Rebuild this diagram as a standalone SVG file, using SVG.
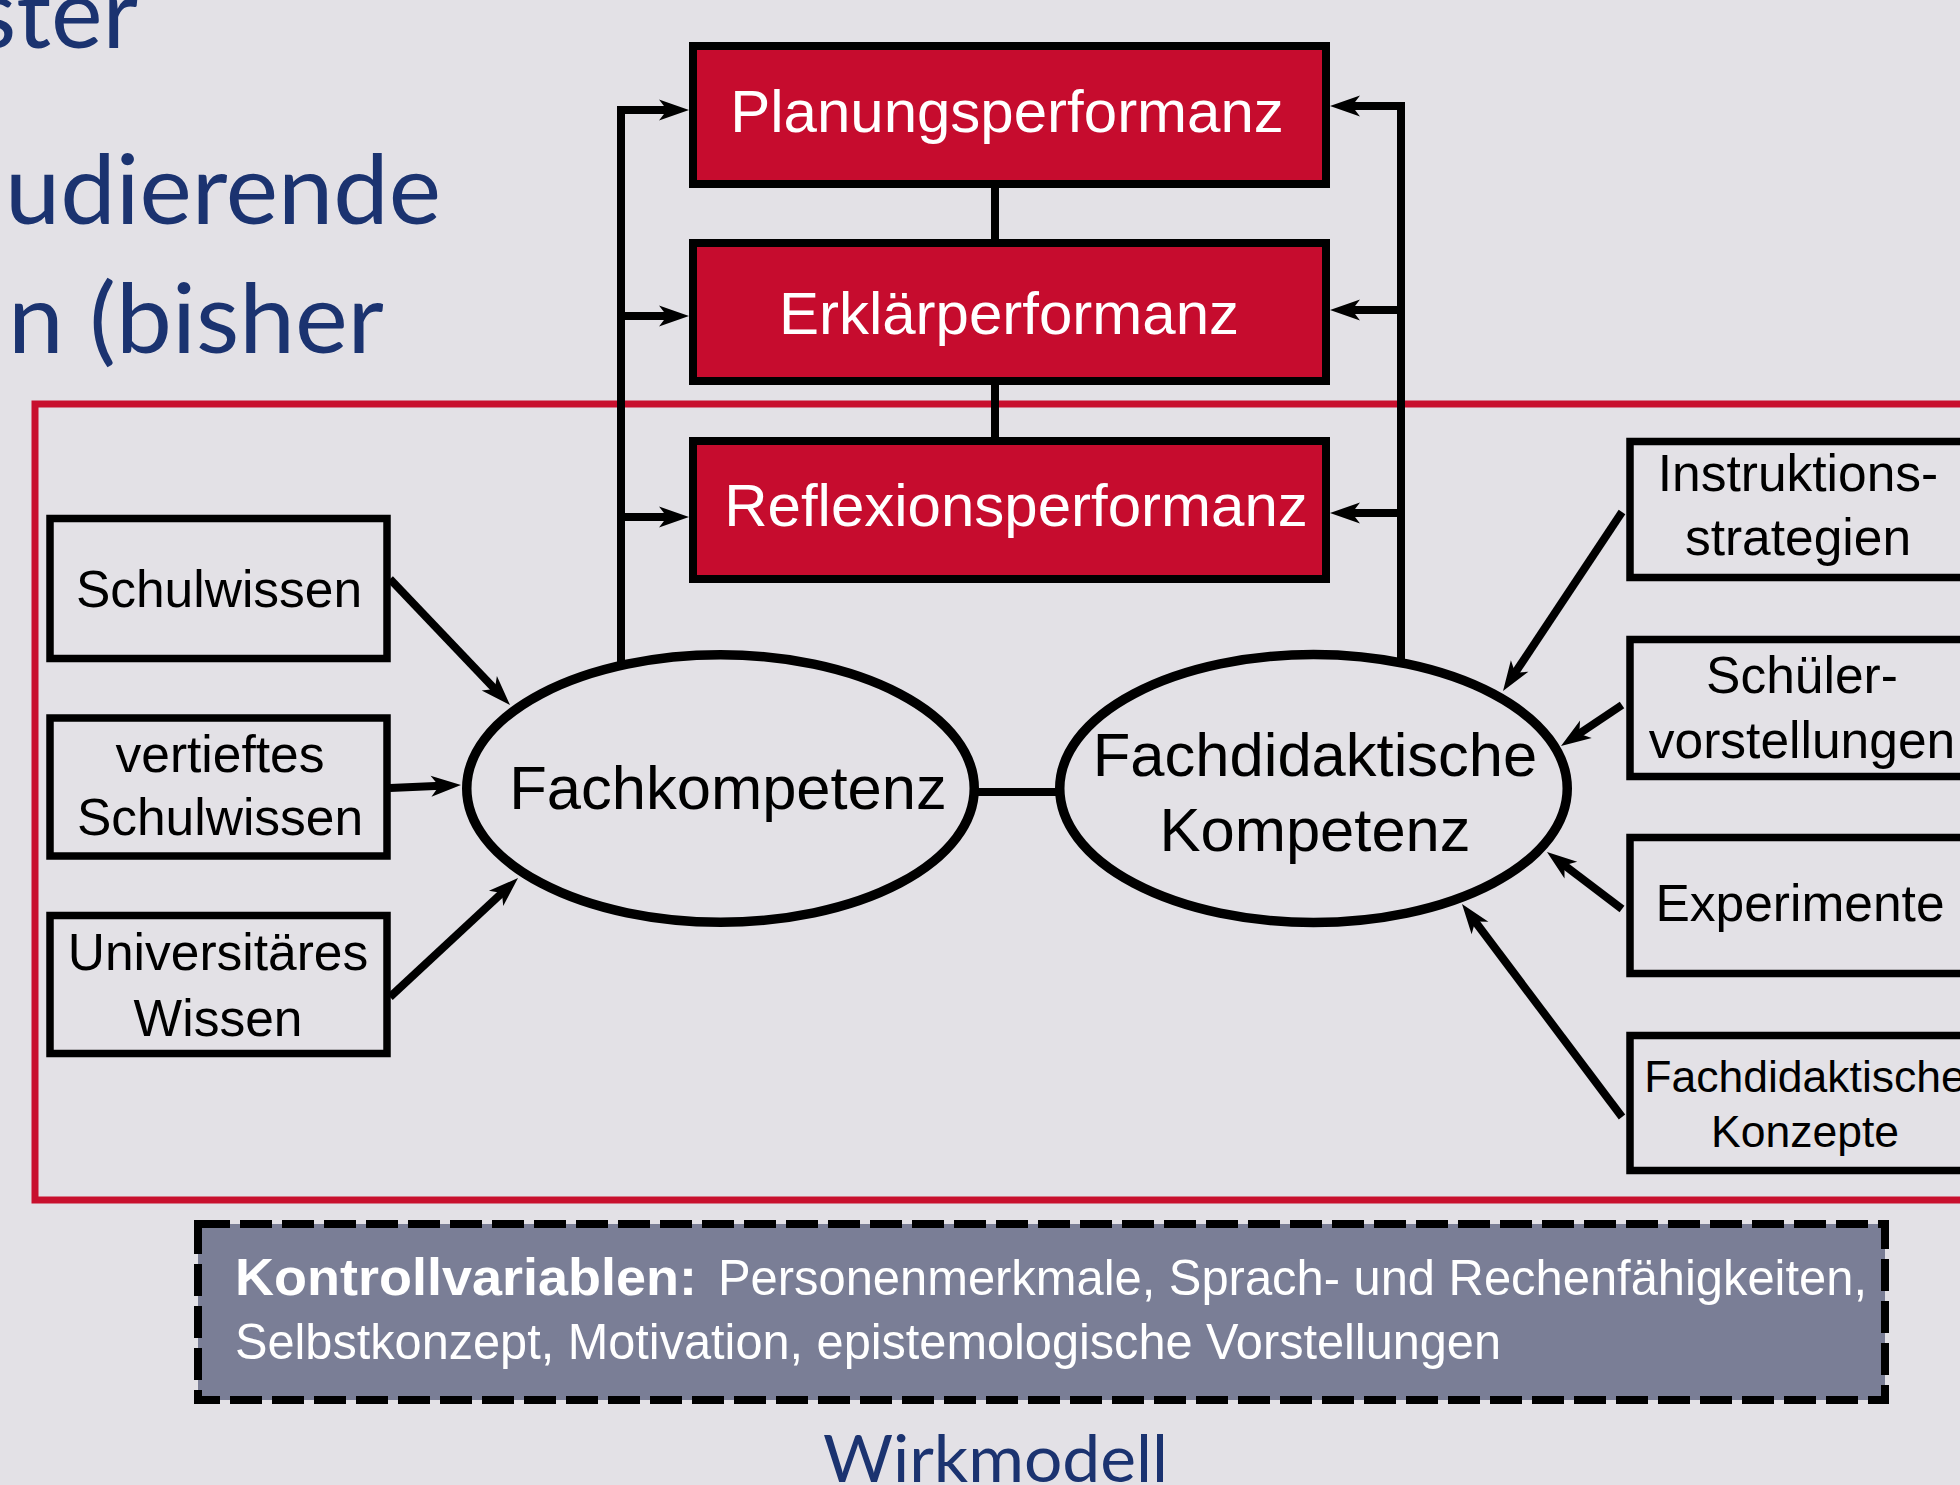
<svg xmlns="http://www.w3.org/2000/svg" width="1960" height="1485" viewBox="0 0 1960 1485">
<defs>
<style>
.bg{fill:#E3E1E6}
.title{font-family:Lato,"Open Sans","Noto Sans",sans-serif;fill:#1B3370}
.frame{fill:none;stroke:#C8102E;stroke-width:7}
.perf rect{fill:#C60C2E;stroke:#000;stroke-width:8}
.perf text{font-family:"Liberation Sans",Arial,sans-serif;font-size:60px;fill:#fff;text-anchor:middle}
.box rect{fill:none;stroke:#000;stroke-width:7.5}
.box text{font-family:"Liberation Sans",Arial,sans-serif;font-size:51.5px;fill:#000;text-anchor:middle}
.ell ellipse{fill:#E3E1E6;stroke:#000;stroke-width:9.5}
.ell text{font-family:"Liberation Sans",Arial,sans-serif;font-size:61.5px;fill:#000;text-anchor:middle}
.con path,.con line{fill:none;stroke:#000;stroke-width:8;stroke-linejoin:miter}
.arr{marker-end:url(#ah)}
.ctrl rect{fill:#7A7E96;stroke:#000;stroke-width:8;stroke-dasharray:32 10}
.ctrl text{font-family:"Liberation Sans",Arial,sans-serif;fill:#fff}
</style>
<marker id="ah" markerUnits="userSpaceOnUse" markerWidth="34" markerHeight="24" viewBox="-12 -12 34 24" refX="0" refY="0" orient="auto">
<path d="M20,0 L-10,-10.5 L-2,0 L-10,10.5 Z" fill="#000"/>
</marker>
</defs>
<rect class="bg" x="0" y="0" width="1960" height="1485"/>
<g id="slide-title">
<text class="title" x="-26" y="48" font-size="96" textLength="164" lengthAdjust="spacingAndGlyphs">ster</text>
<text class="title" x="5" y="224" font-size="96" textLength="436" lengthAdjust="spacingAndGlyphs">udierende</text>
<text class="title" x="8" y="353" font-size="96" textLength="376" lengthAdjust="spacingAndGlyphs">n (bisher</text>
</g>
<rect id="frame" class="frame" x="35" y="404" width="1960" height="796"/>
<g id="ctrl" class="ctrl">
<rect x="198" y="1224" width="1687" height="176"/>
<text x="235" y="1295" font-size="52" font-weight="bold" textLength="462" lengthAdjust="spacingAndGlyphs">Kontrollvariablen:</text>
<text x="718" y="1295" font-size="50" textLength="1149" lengthAdjust="spacingAndGlyphs">Personenmerkmale, Sprach- und Rechenfähigkeiten,</text>
<text x="235" y="1359" font-size="50" textLength="1266" lengthAdjust="spacingAndGlyphs">Selbstkonzept, Motivation, epistemologische Vorstellungen</text>
</g>
<g id="nodes">
<g id="planung" class="perf"><rect x="693" y="46" width="633" height="138"/><text x="1007" y="132">Planungsperformanz</text></g>
<g id="erklaer" class="perf"><rect x="693" y="243" width="633" height="138"/><text x="1009" y="334">Erklärperformanz</text></g>
<g id="reflexion" class="perf"><rect x="693" y="441" width="633" height="138"/><text x="1016" y="526">Reflexionsperformanz</text></g>
<g id="schulwissen" class="box"><rect x="50" y="518.5" width="337" height="140"/><text x="219" y="607">Schulwissen</text></g>
<g id="vertieftes" class="box"><rect x="50" y="718" width="337" height="138"/><text x="220" y="772">vertieftes</text><text x="220" y="835">Schulwissen</text></g>
<g id="universitaeres" class="box"><rect x="50" y="915.5" width="337" height="138"/><text x="218" y="970">Universitäres</text><text x="218" y="1036">Wissen</text></g>
<g id="instruktion" class="box"><rect x="1630" y="441.5" width="345" height="136"/><text x="1798" y="491">Instruktions-</text><text x="1798" y="555">strategien</text></g>
<g id="schueler" class="box"><rect x="1630" y="639.5" width="345" height="137"/><text x="1802" y="693">Schüler-</text><text x="1802" y="758">vorstellungen</text></g>
<g id="experimente" class="box"><rect x="1630" y="837.5" width="345" height="136"/><text x="1800" y="921">Experimente</text></g>
<g id="konzepte" class="box"><rect x="1630" y="1035.5" width="345" height="135"/><text x="1805" y="1092" style="font-size:44.5px">Fachdidaktische</text><text x="1805" y="1147" style="font-size:44.5px">Konzepte</text></g>
<g id="fachkompetenz" class="ell"><ellipse cx="720.5" cy="788.5" rx="253.75" ry="133.75"/><text x="728" y="809">Fachkompetenz</text></g>
<g id="fachdidaktik" class="ell"><ellipse cx="1313.5" cy="788.5" rx="253.75" ry="134"/><text x="1315" y="776">Fachdidaktische</text><text x="1315" y="851">Kompetenz</text></g>
</g>
<g id="connectors" class="con">
<line x1="995" y1="184" x2="995" y2="243"/>
<line x1="995" y1="381" x2="995" y2="441"/>
<line x1="975" y1="792" x2="1060" y2="792"/>
<path class="arr" d="M621,666 V110 H669"/>
<path class="arr" d="M621,316 H669"/>
<path class="arr" d="M621,517 H669"/>
<path class="arr" d="M1401,663 V106 H1350"/>
<path class="arr" d="M1401,310 H1350"/>
<path class="arr" d="M1401,513 H1350"/>
<path class="arr" d="M390,579 L496.2,690.5"/>
<path class="arr" d="M390,788 L441,785.8"/>
<path class="arr" d="M390,997 L503.4,891.6"/>
<path class="arr" d="M1622,512 L1514.1,674.3"/>
<path class="arr" d="M1622,705 L1577.6,734.8"/>
<path class="arr" d="M1622,909 L1562.9,864.1"/>
<path class="arr" d="M1622,1117 L1474,920"/>
</g>
<text id="caption" class="title" x="823" y="1482" font-size="66" textLength="345" lengthAdjust="spacingAndGlyphs">Wirkmodell</text>
</svg>
